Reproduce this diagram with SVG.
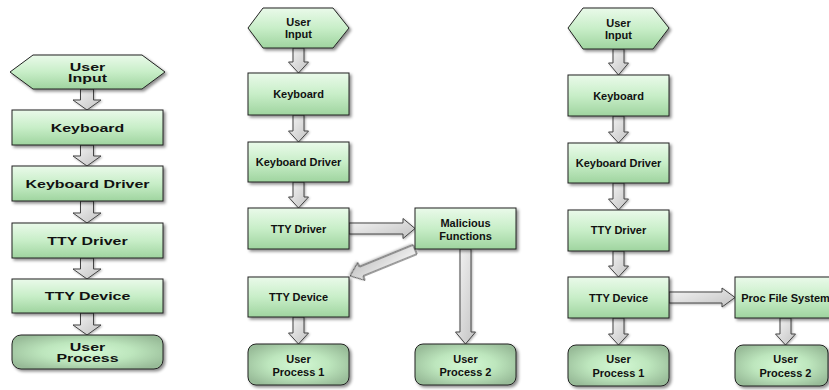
<svg xmlns="http://www.w3.org/2000/svg" width="829" height="390" viewBox="0 0 829 390">
<defs>
  <linearGradient id="gBox" x1="0" y1="0" x2="0" y2="1">
    <stop offset="0" stop-color="#eafaea"/>
    <stop offset="0.5" stop-color="#c8eec8"/>
    <stop offset="1" stop-color="#9fd49f"/>
  </linearGradient>
  <radialGradient id="gProc" cx="0.5" cy="0.5" r="0.6">
    <stop offset="0" stop-color="#d4f8d4"/>
    <stop offset="0.5" stop-color="#bde6bd"/>
    <stop offset="1" stop-color="#98bb98"/>
  </radialGradient>
  <linearGradient id="gArrow" x1="0" y1="0" x2="1" y2="1">
    <stop offset="0" stop-color="#f6f6f6"/>
    <stop offset="1" stop-color="#c2c2c2"/>
  </linearGradient>
  <filter id="sh" x="-10%" y="-10%" width="130%" height="140%">
    <feDropShadow dx="2" dy="2" stdDeviation="1.5" flood-color="#000" flood-opacity="0.45"/>
  </filter>
  <filter id="shA" x="-20%" y="-20%" width="150%" height="150%">
    <feDropShadow dx="1" dy="1" stdDeviation="1" flood-color="#000" flood-opacity="0.3"/>
  </filter>
</defs>
<style>
  .box{fill:url(#gBox);stroke:#222;stroke-width:1;filter:url(#sh)}
  .proc{fill:url(#gProc);stroke:#222;stroke-width:1;filter:url(#sh)}
  .arr{fill:url(#gArrow);stroke:#444;stroke-width:1;stroke-linejoin:miter;filter:url(#shA)}
  text{font-family:"Liberation Sans",Arial,sans-serif;font-weight:bold;font-size:11px;fill:#111;text-anchor:middle}
</style>

<!-- ===== Connectors ===== -->
<g id="connectors">
  <!-- left column -->
  <path class="arr" d="M80.5,89 H93.5 V100 H101 L87,110 L73,100 H80.5 Z"/>
  <path class="arr" d="M80.5,145 H93.5 V156 H101 L87,166 L73,156 H80.5 Z"/>
  <path class="arr" d="M80.5,201 H93.5 V213 H101 L87,223 L73,213 H80.5 Z"/>
  <path class="arr" d="M80.5,258 H93.5 V269 H101 L87,279 L73,269 H80.5 Z"/>
  <path class="arr" d="M80.5,313 H93.5 V325 H101 L87,335 L73,325 H80.5 Z"/>
  <!-- middle column -->
  <path class="arr" d="M293,48 H304 V62 H308.5 L298.5,73 L288.5,62 H293 Z"/>
  <path class="arr" d="M293,115 H304 V131 H308.5 L298.5,142 L288.5,131 H293 Z"/>
  <path class="arr" d="M293,182 H304 V197 H308.5 L298.5,208 L288.5,197 H293 Z"/>
  <path class="arr" d="M293,317 H304 V333 H308.5 L298.5,344 L288.5,333 H293 Z"/>
  <path class="arr" d="M349,223 V234 H403 V238.5 L415,228.5 L403,218.5 V223 Z"/>
  <path class="arr" d="M0,-5 V5 H58 V9.5 L70,0 L58,-9.5 V-5 Z" transform="translate(415,249.5) rotate(157.8)"/>
  <path class="arr" d="M460,249 H471 V332 H475.5 L465.5,344 L455.5,332 H460 Z"/>
  <!-- right column -->
  <path class="arr" d="M613,49 H624 V63 H628.5 L618.5,75 L608.5,63 H613 Z"/>
  <path class="arr" d="M613,116 H624 V132 H628.5 L618.5,143 L608.5,132 H613 Z"/>
  <path class="arr" d="M613,183 H624 V199 H628.5 L618.5,210 L608.5,199 H613 Z"/>
  <path class="arr" d="M613,251 H624 V266 H628.5 L618.5,277 L608.5,266 H613 Z"/>
  <path class="arr" d="M613,318 H624 V334 H628.5 L618.5,345 L608.5,334 H613 Z"/>
  <path class="arr" d="M669,292 V303 H722 V307 L735,297.5 L722,288 V292 Z"/>
  <path class="arr" d="M780,318 H791 V334 H795.5 L785.5,345 L775.5,334 H780 Z"/>
</g>

<!-- ===== Left column (horizontally stretched) ===== -->
<g id="L-user-input">
  <polygon class="box" points="10,72 33,55 142,55 165,72 142,89 33,89"/>
  <text transform="translate(87.5,71) scale(1.45,1)">User</text>
  <text transform="translate(87.5,82) scale(1.45,1)">Input</text>
</g>
<g id="L-keyboard">
  <rect class="box" x="12" y="110" width="151" height="35"/>
  <text transform="translate(87.5,132) scale(1.45,1)">Keyboard</text>
</g>
<g id="L-keyboard-driver">
  <rect class="box" x="12" y="166" width="151" height="35"/>
  <text transform="translate(87.5,188) scale(1.45,1)">Keyboard Driver</text>
</g>
<g id="L-tty-driver">
  <rect class="box" x="12" y="223" width="151" height="35"/>
  <text transform="translate(87.5,244.5) scale(1.45,1)">TTY Driver</text>
</g>
<g id="L-tty-device">
  <rect class="box" x="12" y="279" width="151" height="34"/>
  <text transform="translate(87.5,300) scale(1.45,1)">TTY Device</text>
</g>
<g id="L-user-process">
  <rect class="proc" x="12" y="335" width="151" height="34" rx="9" ry="9"/>
  <text transform="translate(87.5,351) scale(1.45,1)">User</text>
  <text transform="translate(87.5,362) scale(1.45,1)">Process</text>
</g>

<!-- ===== Middle column ===== -->
<g id="M-user-input">
  <polygon class="box" points="248,28 263,8 333,8 349,28 333,48 263,48"/>
  <text x="298.5" y="26">User</text>
  <text x="298.5" y="38">Input</text>
</g>
<g id="M-keyboard">
  <rect class="box" x="248" y="73" width="101" height="42"/>
  <text x="298.5" y="98">Keyboard</text>
</g>
<g id="M-keyboard-driver">
  <rect class="box" x="248" y="142" width="101" height="40"/>
  <text x="298.5" y="166">Keyboard Driver</text>
</g>
<g id="M-tty-driver">
  <rect class="box" x="248" y="208" width="101" height="41"/>
  <text x="298.5" y="233">TTY Driver</text>
</g>
<g id="M-malicious">
  <rect class="box" x="415" y="208" width="101" height="41"/>
  <text x="465.5" y="227">Malicious</text>
  <text x="465.5" y="240">Functions</text>
</g>
<g id="M-tty-device">
  <rect class="box" x="248" y="277" width="101" height="40"/>
  <text x="298.5" y="301">TTY Device</text>
</g>
<g id="M-user-process-1">
  <rect class="proc" x="248" y="344" width="101" height="41" rx="8" ry="8"/>
  <text x="298.5" y="363">User</text>
  <text x="298.5" y="376">Process 1</text>
</g>
<g id="M-user-process-2">
  <rect class="proc" x="415" y="344" width="101" height="41" rx="8" ry="8"/>
  <text x="465.5" y="363">User</text>
  <text x="465.5" y="376">Process 2</text>
</g>

<!-- ===== Right column ===== -->
<g id="R-user-input">
  <polygon class="box" points="568,28 583,8 653,8 669,28 653,49 583,49"/>
  <text x="618.5" y="27">User</text>
  <text x="618.5" y="39">Input</text>
</g>
<g id="R-keyboard">
  <rect class="box" x="568" y="75" width="101" height="41"/>
  <text x="618.5" y="100">Keyboard</text>
</g>
<g id="R-keyboard-driver">
  <rect class="box" x="568" y="143" width="101" height="40"/>
  <text x="618.5" y="167">Keyboard Driver</text>
</g>
<g id="R-tty-driver">
  <rect class="box" x="568" y="210" width="101" height="41"/>
  <text x="618.5" y="234">TTY Driver</text>
</g>
<g id="R-tty-device">
  <rect class="box" x="568" y="277" width="101" height="41"/>
  <text x="618.5" y="302">TTY Device</text>
</g>
<g id="R-proc-fs">
  <rect class="box" x="735" y="277" width="101" height="41"/>
  <text x="785.5" y="302">Proc File System</text>
</g>
<g id="R-user-process-1">
  <rect class="proc" x="568" y="345" width="101" height="41" rx="8" ry="8"/>
  <text x="618.5" y="363">User</text>
  <text x="618.5" y="377">Process 1</text>
</g>
<g id="R-user-process-2">
  <rect class="proc" x="735" y="345" width="93" height="41" rx="8" ry="8"/>
  <text x="785.5" y="363">User</text>
  <text x="785.5" y="377">Process 2</text>
</g>
</svg>
